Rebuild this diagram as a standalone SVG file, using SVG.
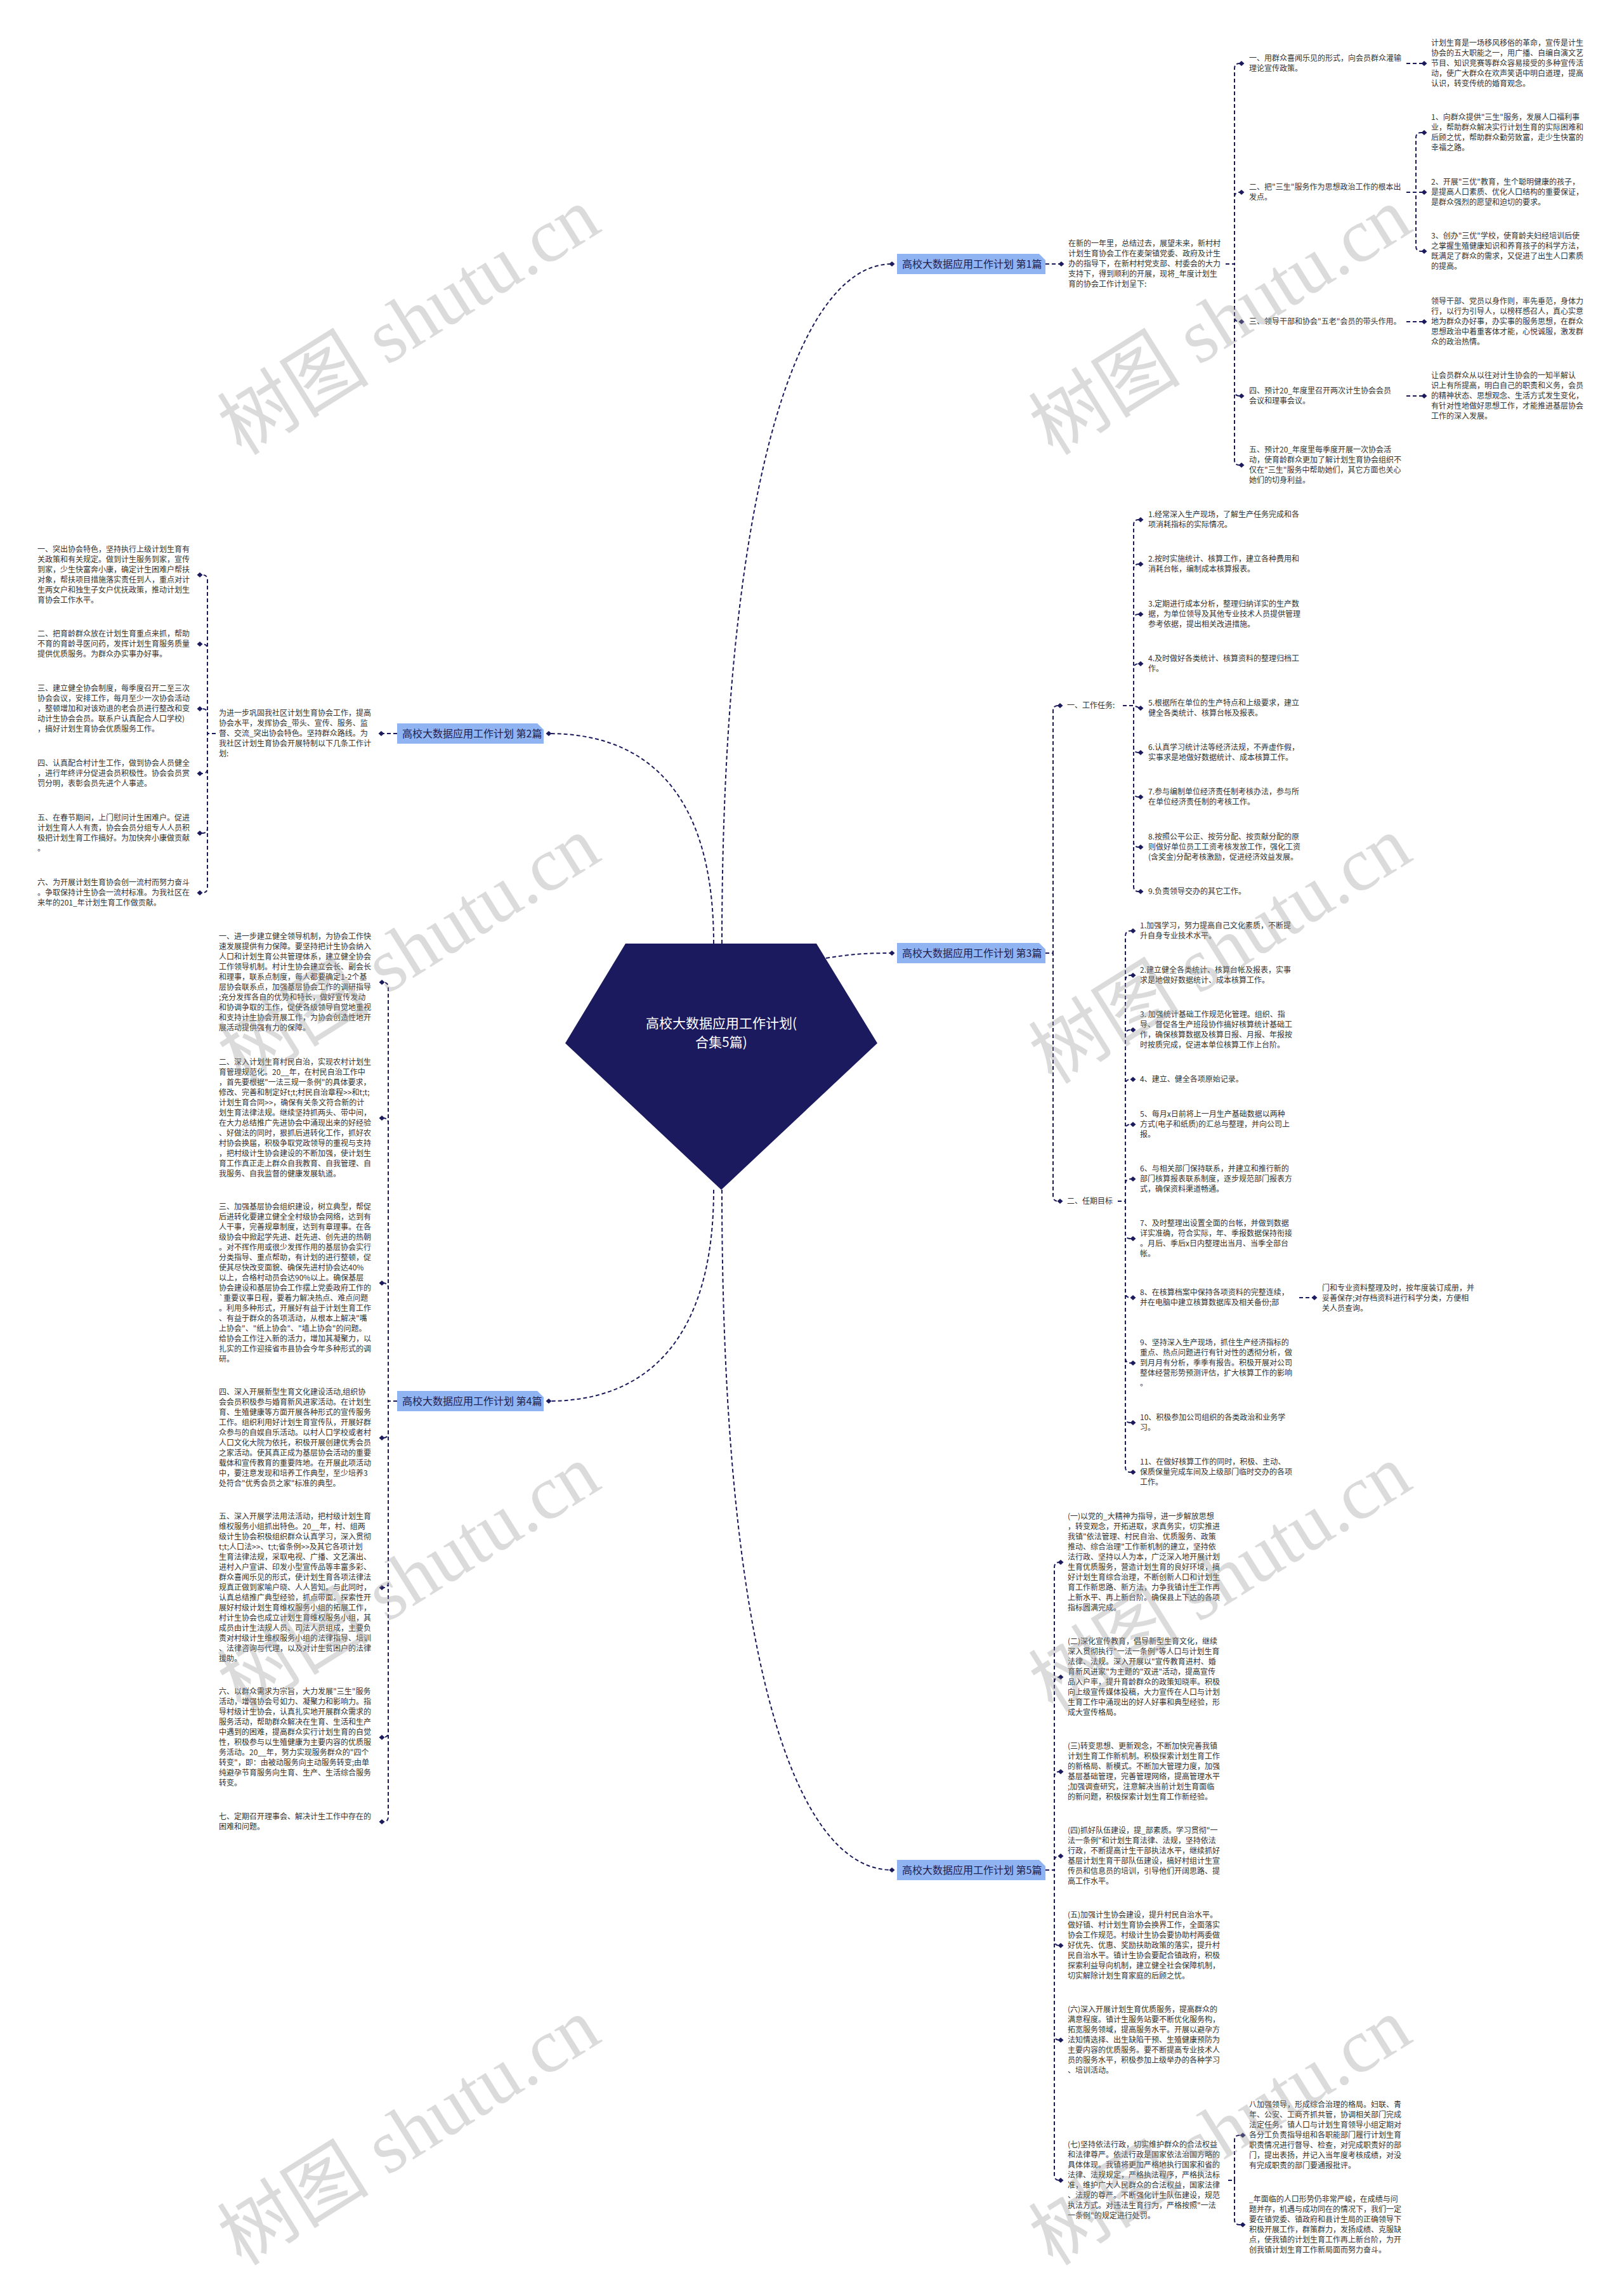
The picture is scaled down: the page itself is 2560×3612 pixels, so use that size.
<svg xmlns="http://www.w3.org/2000/svg" xmlns:xlink="http://www.w3.org/1999/xlink" width="2560" height="3612" viewBox="0 0 2560 3612">
<style>
.t{font-family:"Noto Sans CJK SC","Noto Sans",sans-serif;font-size:12px;fill:#333}
.lb{font-family:"Noto Sans CJK SC","Noto Sans",sans-serif;font-size:16px;fill:#1f2050}
.box{fill:#90b4f2}
.c{fill:none;stroke:#1b1a5c;stroke-width:2;stroke-dasharray:6 4}
.wm{font-family:"Liberation Serif","Noto Sans CJK SC",serif;font-size:120px;fill:#9a9a9a;opacity:.35}
</style>
<defs>
<path id="dm" d="M-4.5,0 L0,-4 L4.5,0 L0,4Z" fill="#1b1a5c"/>
</defs>
<rect width="2560" height="3612" fill="#fff"/>

<g id="connectors">
<path class="c" d="M1138,1487 C1138,800 1250,416 1406,416"/>
<path class="c" d="M1125,1487 C1125,1250 1020,1156 865,1156"/>
<path class="c" d="M1302,1510 C1340,1504 1360,1502 1406,1502"/>
<path class="c" d="M1125,1875 C1125,2110 1020,2208 865,2208"/>
<path class="c" d="M1138,1875 C1138,2600 1250,2947 1406,2947"/>
<path class="c" d="M1648,416 H1673"/>
<path class="c" d="M1932,416 H1946 V108 Q1946,100 1954,100 H1957"/>
<path class="c" d="M1932,416 H1946 V311 Q1946,303 1954,303 H1957"/>
<path class="c" d="M1932,416 H1946 V499 Q1946,507 1954,507 H1957"/>
<path class="c" d="M1932,416 H1946 V616 Q1946,624 1954,624 H1957"/>
<path class="c" d="M1932,416 H1946 V725 Q1946,733 1954,733 H1957"/>
<path class="c" d="M2217,100 H2245"/>
<path class="c" d="M2217,303 H2232 V217 Q2232,209 2240,209 H2245"/>
<path class="c" d="M2217,303 H2245"/>
<path class="c" d="M2217,303 H2232 V388 Q2232,396 2240,396 H2245"/>
<path class="c" d="M2217,507 H2245"/>
<path class="c" d="M2217,624 H2245"/>
<path class="c" d="M1648,1502 H1660 V1120 Q1660,1112 1668,1112 H1671"/>
<path class="c" d="M1648,1502 H1660 V1885 Q1660,1893 1668,1893 H1671"/>
<path class="c" d="M1770,1112 H1787 V827 Q1787,819 1795,819 H1798"/>
<path class="c" d="M1770,1112 H1787 V897 Q1787,889 1795,889 H1798"/>
<path class="c" d="M1770,1112 H1787 V976 Q1787,968 1795,968 H1798"/>
<path class="c" d="M1770,1112 H1787 V1054 Q1787,1046 1795,1046 H1798"/>
<path class="c" d="M1770,1112 H1787 L1798,1116"/>
<path class="c" d="M1770,1112 H1787 V1178 Q1787,1186 1795,1186 H1798"/>
<path class="c" d="M1770,1112 H1787 V1248 Q1787,1256 1795,1256 H1798"/>
<path class="c" d="M1770,1112 H1787 V1327 Q1787,1335 1795,1335 H1798"/>
<path class="c" d="M1770,1112 H1787 V1397 Q1787,1405 1795,1405 H1798"/>
<path class="c" d="M1762,1893 H1774 V1475 Q1774,1467 1782,1467 H1786"/>
<path class="c" d="M1762,1893 H1774 V1545 Q1774,1537 1782,1537 H1786"/>
<path class="c" d="M1762,1893 H1774 V1631 Q1774,1623 1782,1623 H1786"/>
<path class="c" d="M1762,1893 H1774 V1709 Q1774,1701 1782,1701 H1786"/>
<path class="c" d="M1762,1893 H1774 V1780 Q1774,1772 1782,1772 H1786"/>
<path class="c" d="M1762,1893 H1774 V1866 Q1774,1858 1782,1858 H1786"/>
<path class="c" d="M1762,1893 H1774 V1944 Q1774,1952 1782,1952 H1786"/>
<path class="c" d="M1762,1893 H1774 V2037 Q1774,2045 1782,2045 H1786"/>
<path class="c" d="M1762,1893 H1774 V2140 Q1774,2148 1782,2148 H1786"/>
<path class="c" d="M1762,1893 H1774 V2234 Q1774,2242 1782,2242 H1786"/>
<path class="c" d="M1762,1893 H1774 V2312 Q1774,2320 1782,2320 H1786"/>
<path class="c" d="M2048,2045 H2072"/>
<path class="c" d="M1648,2947 H1662 V2470 Q1662,2462 1670,2462 H1672"/>
<path class="c" d="M1648,2947 H1662 V2651 Q1662,2643 1670,2643 H1672"/>
<path class="c" d="M1648,2947 H1662 V2800 Q1662,2792 1670,2792 H1672"/>
<path class="c" d="M1648,2947 H1662 V2933 Q1662,2925 1670,2925 H1672"/>
<path class="c" d="M1648,2947 H1662 V3058 Q1662,3066 1670,3066 H1672"/>
<path class="c" d="M1648,2947 H1662 V3207 Q1662,3215 1670,3215 H1672"/>
<path class="c" d="M1648,2947 H1662 V3428 Q1662,3436 1670,3436 H1672"/>
<path class="c" d="M1936,3436 H1946 V3373 Q1946,3365 1954,3365 H1959"/>
<path class="c" d="M1936,3436 H1946 V3498 Q1946,3506 1954,3506 H1959"/>
<path class="c" d="M626,1156 H601"/>
<path class="c" d="M340,1156 H327 V914 Q327,906 319,906 H315"/>
<path class="c" d="M340,1156 H327 V1023 Q327,1015 319,1015 H315"/>
<path class="c" d="M340,1156 H327 V1125 Q327,1117 319,1117 H315"/>
<path class="c" d="M340,1156 H327 V1211 Q327,1219 319,1219 H315"/>
<path class="c" d="M340,1156 H327 V1305 Q327,1313 319,1313 H315"/>
<path class="c" d="M340,1156 H327 V1399 Q327,1407 319,1407 H315"/>
<path class="c" d="M626,2208 H612 V1556 Q612,1548 604,1548 H602"/>
<path class="c" d="M626,2208 H612 V1770 Q612,1762 604,1762 H602"/>
<path class="c" d="M626,2208 H612 V2030 Q612,2022 604,2022 H602"/>
<path class="c" d="M626,2208 H612 V2258 Q612,2266 604,2266 H602"/>
<path class="c" d="M626,2208 H612 V2494 Q612,2502 604,2502 H602"/>
<path class="c" d="M626,2208 H612 V2730 Q612,2738 604,2738 H602"/>
<path class="c" d="M626,2208 H612 V2863 Q612,2871 604,2871 H602"/>
</g>

<g id="center">
<path d="M986,1487 H1287 L1383,1644 L1137,1875 L891,1644 Z" fill="#1c1a5e"/>
<text x="1137" y="1620" text-anchor="middle" font-family="Noto Sans CJK SC, sans-serif" font-size="21" fill="#fff">高校大数据应用工作计划(</text>
<text x="1137" y="1650" text-anchor="middle" font-family="Noto Sans CJK SC, sans-serif" font-size="21" fill="#fff">合集5篇)</text>
</g>

<g id="label1"><use href="#dm" x="1406" y="416"/><path class="box" d="M1414,400 H1638 L1648,410 V432 H1414 Z"/><text class="lb" x="1422" y="422">高校大数据应用工作计划 第1篇</text></g>
<g id="label2"><use href="#dm" x="865" y="1156"/><path class="box" d="M626,1140 H847 L857,1150 V1172 H626 Z"/><text class="lb" x="634" y="1162">高校大数据应用工作计划 第2篇</text></g>
<g id="label3"><use href="#dm" x="1406" y="1502"/><path class="box" d="M1414,1486 H1638 L1648,1496 V1518 H1414 Z"/><text class="lb" x="1422" y="1508">高校大数据应用工作计划 第3篇</text></g>
<g id="label4"><use href="#dm" x="865" y="2208"/><path class="box" d="M626,2192 H847 L857,2202 V2224 H626 Z"/><text class="lb" x="634" y="2214">高校大数据应用工作计划 第4篇</text></g>
<g id="label5"><use href="#dm" x="1406" y="2947"/><path class="box" d="M1414,2931 H1638 L1648,2941 V2963 H1414 Z"/><text class="lb" x="1422" y="2953">高校大数据应用工作计划 第5篇</text></g>

<!-- Branch 1 -->
<g id="b1-intro"><use href="#dm" x="1673" y="416"/><text class="t"><tspan x="1684" y="388">在新的一年里，总结过去，展望未来，新村村</tspan><tspan x="1684" dy="16">计划生育协会工作在麦架镇党委、政府及计生</tspan><tspan x="1684" dy="16">办的指导下，在新村村党支部、村委会的大力</tspan><tspan x="1684" dy="16">支持下，得到顺利的开展，现将_年度计划生</tspan><tspan x="1684" dy="16">育的协会工作计划呈下:</tspan></text></g>
<g id="b1-a"><use href="#dm" x="1957" y="100"/><text class="t"><tspan x="1969" y="96">一、用群众喜闻乐见的形式，向会员群众灌输</tspan><tspan x="1969" dy="16">理论宣传政策。</tspan></text></g>
<g id="b1-a1"><use href="#dm" x="2245" y="100"/><text class="t"><tspan x="2256" y="72">计划生育是一场移风移俗的革命，宣传是计生</tspan><tspan x="2256" dy="16">协会的五大职能之一，用广播、自编自演文艺</tspan><tspan x="2256" dy="16">节目、知识竞赛等群众容易接受的多种宣传活</tspan><tspan x="2256" dy="16">动，使广大群众在欢声笑语中明白道理，提高</tspan><tspan x="2256" dy="16">认识，转变传统的婚育观念。</tspan></text></g>
<g id="b1-b"><use href="#dm" x="1957" y="303"/><text class="t"><tspan x="1969" y="299">二、把"三生"服务作为思想政治工作的根本出</tspan><tspan x="1969" dy="16">发点。</tspan></text></g>
<g id="b1-b1"><use href="#dm" x="2245" y="209"/><text class="t"><tspan x="2256" y="189">1、向群众提供"三生"服务，发展人口福利事</tspan><tspan x="2256" dy="16">业，帮助群众解决实行计划生育的实际困难和</tspan><tspan x="2256" dy="16">后顾之忧，帮助群众勤劳致富，走少生快富的</tspan><tspan x="2256" dy="16">幸福之路。</tspan></text></g>
<g id="b1-b2"><use href="#dm" x="2245" y="303"/><text class="t"><tspan x="2256" y="291">2、开展"三优"教育，生个聪明健康的孩子，</tspan><tspan x="2256" dy="16">是提高人口素质、优化人口结构的重要保证，</tspan><tspan x="2256" dy="16">是群众强烈的愿望和迫切的要求。</tspan></text></g>
<g id="b1-b3"><use href="#dm" x="2245" y="396"/><text class="t"><tspan x="2256" y="376">3、创办"三优"学校，使育龄夫妇经培训后使</tspan><tspan x="2256" dy="16">之掌握生殖健康知识和养育孩子的科学方法，</tspan><tspan x="2256" dy="16">既满足了群众的需求，又促进了出生人口素质</tspan><tspan x="2256" dy="16">的提高。</tspan></text></g>
<g id="b1-c"><use href="#dm" x="1957" y="507"/><text class="t"><tspan x="1969" y="511">三、领导干部和协会"五老"会员的带头作用。</tspan></text></g>
<g id="b1-c1"><use href="#dm" x="2245" y="507"/><text class="t"><tspan x="2256" y="479">领导干部、党员以身作则，率先垂范，身体力</tspan><tspan x="2256" dy="16">行，以行为引导人，以榜样感召人，真心实意</tspan><tspan x="2256" dy="16">地为群众办好事，办实事的服务思想，在群众</tspan><tspan x="2256" dy="16">思想政治中着重客体才能，心悦诚服，激发群</tspan><tspan x="2256" dy="16">众的政治热情。</tspan></text></g>
<g id="b1-d"><use href="#dm" x="1957" y="624"/><text class="t"><tspan x="1969" y="620">四、预计20_年度里召开两次计生协会会员</tspan><tspan x="1969" dy="16">会议和理事会议。</tspan></text></g>
<g id="b1-d1"><use href="#dm" x="2245" y="624"/><text class="t"><tspan x="2256" y="596">让会员群众从以往对计生协会的一知半解认</tspan><tspan x="2256" dy="16">识上有所提高，明白自己的职责和义务，会员</tspan><tspan x="2256" dy="16">的精神状态、思想观念、生活方式发生变化，</tspan><tspan x="2256" dy="16">有针对性地做好思想工作，才能推进基层协会</tspan><tspan x="2256" dy="16">工作的深入发展。</tspan></text></g>
<g id="b1-e"><use href="#dm" x="1957" y="733"/><text class="t"><tspan x="1969" y="713">五、预计20_年度里每季度开展一次协会活</tspan><tspan x="1969" dy="16">动，使育龄群众更加了解计划生育协会组织不</tspan><tspan x="1969" dy="16">仅在"三生"服务中帮助她们，其它方面也关心</tspan><tspan x="1969" dy="16">她们的切身利益。</tspan></text></g>

<!-- Branch 3 -->
<g id="b3-1"><use href="#dm" x="1671" y="1112"/><text class="t" x="1682" y="1116">一、工作任务:</text></g>
<g id="b3-1-1"><use href="#dm" x="1798" y="819"/><text class="t"><tspan x="1810" y="815">1.经常深入生产现场，了解生产任务完成和各</tspan><tspan x="1810" dy="16">项消耗指标的实际情况。</tspan></text></g>
<g id="b3-1-2"><use href="#dm" x="1798" y="889"/><text class="t"><tspan x="1810" y="885">2.按时实施统计、核算工作，建立各种费用和</tspan><tspan x="1810" dy="16">消耗台帐，编制成本核算报表。</tspan></text></g>
<g id="b3-1-3"><use href="#dm" x="1798" y="968"/><text class="t"><tspan x="1810" y="956">3.定期进行成本分析，整理归纳详实的生产数</tspan><tspan x="1810" dy="16">据，为单位领导及其他专业技术人员提供管理</tspan><tspan x="1810" dy="16">参考依据，提出相关改进措施。</tspan></text></g>
<g id="b3-1-4"><use href="#dm" x="1798" y="1046"/><text class="t"><tspan x="1810" y="1042">4.及时做好各类统计、核算资料的整理归档工</tspan><tspan x="1810" dy="16">作。</tspan></text></g>
<g id="b3-1-5"><use href="#dm" x="1798" y="1116"/><text class="t"><tspan x="1810" y="1112">5.根据所在单位的生产特点和上级要求，建立</tspan><tspan x="1810" dy="16">健全各类统计、核算台帐及报表。</tspan></text></g>
<g id="b3-1-6"><use href="#dm" x="1798" y="1186"/><text class="t"><tspan x="1810" y="1182">6.认真学习统计法等经济法规，不弄虚作假，</tspan><tspan x="1810" dy="16">实事求是地做好数据统计、成本核算工作。</tspan></text></g>
<g id="b3-1-7"><use href="#dm" x="1798" y="1256"/><text class="t"><tspan x="1810" y="1252">7.参与编制单位经济责任制考核办法，参与所</tspan><tspan x="1810" dy="16">在单位经济责任制的考核工作。</tspan></text></g>
<g id="b3-1-8"><use href="#dm" x="1798" y="1335"/><text class="t"><tspan x="1810" y="1323">8.按照公平公正、按劳分配、按贡献分配的原</tspan><tspan x="1810" dy="16">则做好单位员工工资考核发放工作，强化工资</tspan><tspan x="1810" dy="16">(含奖金)分配考核激励，促进经济效益发展。</tspan></text></g>
<g id="b3-1-9"><use href="#dm" x="1798" y="1405"/><text class="t" x="1810" y="1409">9.负责领导交办的其它工作。</text></g>

<g id="b3-2"><use href="#dm" x="1671" y="1893"/><text class="t" x="1682" y="1897">二、任期目标</text></g>
<g id="b3-2-1"><use href="#dm" x="1786" y="1467"/><text class="t"><tspan x="1797" y="1463">1.加强学习，努力提高自己文化素质，不断提</tspan><tspan x="1797" dy="16">升自身专业技术水平。</tspan></text></g>
<g id="b3-2-2"><use href="#dm" x="1786" y="1537"/><text class="t"><tspan x="1797" y="1533">2.建立健全各类统计、核算台帐及报表，实事</tspan><tspan x="1797" dy="16">求是地做好数据统计、成本核算工作。</tspan></text></g>
<g id="b3-2-3"><use href="#dm" x="1786" y="1623"/><text class="t"><tspan x="1797" y="1603">3. 加强统计基础工作规范化管理。组织、指</tspan><tspan x="1797" dy="16">导、督促各生产班段协作搞好核算统计基础工</tspan><tspan x="1797" dy="16">作，确保核算数据及核算日报、月报、年报按</tspan><tspan x="1797" dy="16">时按质完成，促进本单位核算工作上台阶。</tspan></text></g>
<g id="b3-2-4"><use href="#dm" x="1786" y="1701"/><text class="t" x="1797" y="1705">4、建立、健全各项原始记录。</text></g>
<g id="b3-2-5"><use href="#dm" x="1786" y="1772"/><text class="t"><tspan x="1797" y="1760">5、每月x日前将上一月生产基础数据以两种</tspan><tspan x="1797" dy="16">方式(电子和纸质)的汇总与整理，并向公司上</tspan><tspan x="1797" dy="16">报。</tspan></text></g>
<g id="b3-2-6"><use href="#dm" x="1786" y="1858"/><text class="t"><tspan x="1797" y="1846">6、与相关部门保持联系，并建立和推行新的</tspan><tspan x="1797" dy="16">部门核算报表联系制度，逐步规范部门报表方</tspan><tspan x="1797" dy="16">式，确保资料渠道畅通。</tspan></text></g>
<g id="b3-2-7"><use href="#dm" x="1786" y="1952"/><text class="t"><tspan x="1797" y="1932">7、及时整理出设置全面的台帐，并做到数据</tspan><tspan x="1797" dy="16">详实准确，符合实际，年、季报数据保持衔接</tspan><tspan x="1797" dy="16">。月后、季后x日内整理出当月、当季全部台</tspan><tspan x="1797" dy="16">帐。</tspan></text></g>
<g id="b3-2-8"><use href="#dm" x="1786" y="2045"/><text class="t"><tspan x="1797" y="2041">8、在核算档案中保持各项资料的完整连续，</tspan><tspan x="1797" dy="16">并在电脑中建立核算数据库及相关备份;部</tspan></text></g>
<g id="b3-2-8-1"><use href="#dm" x="2072" y="2045"/><text class="t"><tspan x="2084" y="2034">门和专业资料整理及时，按年度装订成册，并</tspan><tspan x="2084" dy="16">妥善保存;对存档资料进行科学分类，方便相</tspan><tspan x="2084" dy="16">关人员查询。</tspan></text></g>
<g id="b3-2-9"><use href="#dm" x="1786" y="2148"/><text class="t"><tspan x="1797" y="2120">9、坚持深入生产现场，抓住生产经济指标的</tspan><tspan x="1797" dy="16">重点、热点问题进行有针对性的透彻分析，做</tspan><tspan x="1797" dy="16">到月月有分析，季季有报告。积极开展对公司</tspan><tspan x="1797" dy="16">整体经营形势预测评估，扩大核算工作的影响</tspan><tspan x="1797" dy="16">。</tspan></text></g>
<g id="b3-2-10"><use href="#dm" x="1786" y="2242"/><text class="t"><tspan x="1797" y="2238">10、积极参加公司组织的各类政治和业务学</tspan><tspan x="1797" dy="16">习。</tspan></text></g>
<g id="b3-2-11"><use href="#dm" x="1786" y="2320"/><text class="t"><tspan x="1797" y="2308">11、在做好核算工作的同时，积极、主动、</tspan><tspan x="1797" dy="16">保质保量完成车间及上级部门临时交办的各项</tspan><tspan x="1797" dy="16">工作。</tspan></text></g>

<!-- Branch 5 -->
<g id="b5-1"><use href="#dm" x="1672" y="2462"/><text class="t"><tspan x="1683" y="2394">(一)以党的_大精神为指导，进一步解放思想</tspan><tspan x="1683" dy="16">，转变观念，开拓进取，求真务实，切实推进</tspan><tspan x="1683" dy="16">我镇"依法管理、村民自治、优质服务、政策</tspan><tspan x="1683" dy="16">推动、综合治理"工作新机制的建立，坚持依</tspan><tspan x="1683" dy="16">法行政、坚持以人为本，广泛深入地开展计划</tspan><tspan x="1683" dy="16">生育优质服务，营造计划生育的良好环境，搞</tspan><tspan x="1683" dy="16">好计划生育综合治理，不断创新人口和计划生</tspan><tspan x="1683" dy="16">育工作新思路、新方法，力争我镇计生工作再</tspan><tspan x="1683" dy="16">上新水平、再上新台阶。确保县上下达的各项</tspan><tspan x="1683" dy="16">指标圆满完成。</tspan></text></g>
<g id="b5-2"><use href="#dm" x="1672" y="2643"/><text class="t"><tspan x="1683" y="2591">(二)深化宣传教育，倡导新型生育文化，继续</tspan><tspan x="1683" dy="16">深入贯彻执行"一法一条例"等人口与计划生育</tspan><tspan x="1683" dy="16">法律、法规。深入开展以"宣传教育进村、婚</tspan><tspan x="1683" dy="16">育新风进家"为主题的"双进"活动，提高宣传</tspan><tspan x="1683" dy="16">品入户率，提升育龄群众的政策知晓率。积极</tspan><tspan x="1683" dy="16">向上级宣传媒体投稿，大力宣传在人口与计划</tspan><tspan x="1683" dy="16">生育工作中涌现出的好人好事和典型经验，形</tspan><tspan x="1683" dy="16">成大宣传格局。</tspan></text></g>
<g id="b5-3"><use href="#dm" x="1672" y="2792"/><text class="t"><tspan x="1683" y="2756">(三)转变思想、更新观念，不断加快完善我镇</tspan><tspan x="1683" dy="16">计划生育工作新机制。积极探索计划生育工作</tspan><tspan x="1683" dy="16">的新格局、新模式。不断加大管理力度，加强</tspan><tspan x="1683" dy="16">基层基础管理，完善管理网络，提高管理水平</tspan><tspan x="1683" dy="16">;加强调查研究，注意解决当前计划生育面临</tspan><tspan x="1683" dy="16">的新问题，积极探索计划生育工作新经验。</tspan></text></g>
<g id="b5-4"><use href="#dm" x="1672" y="2925"/><text class="t"><tspan x="1683" y="2889">(四)抓好队伍建设，提_部素质。学习贯彻"一</tspan><tspan x="1683" dy="16">法一条例"和计划生育法律、法规，坚持依法</tspan><tspan x="1683" dy="16">行政，不断提高计生干部执法水平，继续抓好</tspan><tspan x="1683" dy="16">基层计划生育干部队伍建设，搞好村组计生宣</tspan><tspan x="1683" dy="16">传员和信息员的培训，引导他们开阔思路、提</tspan><tspan x="1683" dy="16">高工作水平。</tspan></text></g>
<g id="b5-5"><use href="#dm" x="1672" y="3066"/><text class="t"><tspan x="1683" y="3022">(五)加强计生协会建设，提升村民自治水平。</tspan><tspan x="1683" dy="16">做好镇、村计划生育协会换界工作，全面落实</tspan><tspan x="1683" dy="16">协会工作规范。村级计生协会要协助村两委做</tspan><tspan x="1683" dy="16">好优先、优惠、奖励扶助政策的落实，提升村</tspan><tspan x="1683" dy="16">民自治水平。镇计生协会要配合镇政府，积极</tspan><tspan x="1683" dy="16">探索利益导向机制，建立健全社会保障机制，</tspan><tspan x="1683" dy="16">切实解除计划生育家庭的后顾之忧。</tspan></text></g>
<g id="b5-6"><use href="#dm" x="1672" y="3215"/><text class="t"><tspan x="1683" y="3171">(六)深入开展计划生育优质服务，提高群众的</tspan><tspan x="1683" dy="16">满意程度。镇计生服务站要不断优化服务构，</tspan><tspan x="1683" dy="16">拓宽服务领域，提高服务水平。开展以避孕方</tspan><tspan x="1683" dy="16">法知情选择、出生缺陷干预、生殖健康预防为</tspan><tspan x="1683" dy="16">主要内容的优质服务。要不断提高专业技术人</tspan><tspan x="1683" dy="16">员的服务水平，积极参加上级举办的各种学习</tspan><tspan x="1683" dy="16">、培训活动。</tspan></text></g>
<g id="b5-7"><use href="#dm" x="1672" y="3436"/><text class="t"><tspan x="1683" y="3384">(七)坚持依法行政，切实维护群众的合法权益</tspan><tspan x="1683" dy="16">和法律尊严。依法行政是国家依法治国方略的</tspan><tspan x="1683" dy="16">具体体现。我镇将更加严格地执行国家和省的</tspan><tspan x="1683" dy="16">法律、法规规定，严格执法程序，严格执法标</tspan><tspan x="1683" dy="16">准，维护广大人民群众的合法权益，国家法律</tspan><tspan x="1683" dy="16">、法规的尊严。不断强化计生队伍建设，规范</tspan><tspan x="1683" dy="16">执法方式。对违法生育行为，严格按照"一法</tspan><tspan x="1683" dy="16">一条例"的规定进行处罚。</tspan></text></g>
<g id="b5-7-1"><use href="#dm" x="1959" y="3365"/><text class="t"><tspan x="1969" y="3321">八加强领导，形成综合治理的格局。妇联、青</tspan><tspan x="1969" dy="16">年、公安、工商齐抓共管，协调相关部门完成</tspan><tspan x="1969" dy="16">法定任务。镇人口与计划生育领导小组定期对</tspan><tspan x="1969" dy="16">各分工负责指导组和各职能部门履行计划生育</tspan><tspan x="1969" dy="16">职责情况进行督导、检查，对完成职责好的部</tspan><tspan x="1969" dy="16">门，提出表扬，并记入当年度考核成绩，对没</tspan><tspan x="1969" dy="16">有完成职责的部门要通报批评。</tspan></text></g>
<g id="b5-7-2"><use href="#dm" x="1959" y="3506"/><text class="t"><tspan x="1969" y="3470">_年面临的人口形势仍非常严峻，在成绩与问</tspan><tspan x="1969" dy="16">题并存，机遇与成功同在的情况下，我们一定</tspan><tspan x="1969" dy="16">要在镇党委、镇政府和县计生局的正确领导下</tspan><tspan x="1969" dy="16">积极开展工作，群策群力，发扬成绩、克服缺</tspan><tspan x="1969" dy="16">点，使我镇的计划生育工作再上新台阶，为开</tspan><tspan x="1969" dy="16">创我镇计划生育工作新局面而努力奋斗。</tspan></text></g>

<!-- Branch 2 -->
<g id="b2-intro"><use href="#dm" x="601" y="1156"/><text class="t"><tspan x="345" y="1128">为进一步巩固我社区计划生育协会工作，提高</tspan><tspan x="345" dy="16">协会水平，发挥协会_带头、宣传、服务、监</tspan><tspan x="345" dy="16">督、交流_突出协会特色。坚持群众路线。为</tspan><tspan x="345" dy="16">我社区计划生育协会开展特制以下几条工作计</tspan><tspan x="345" dy="16">划:</tspan></text></g>
<g id="b2-1"><use href="#dm" x="315" y="906"/><text class="t"><tspan x="59" y="870">一、突出协会特色，坚持执行上级计划生育有</tspan><tspan x="59" dy="16">关政策和有关规定。做到计生服务到家，宣传</tspan><tspan x="59" dy="16">到家，少生快富奔小康，确定计生困难户帮扶</tspan><tspan x="59" dy="16">对象，帮扶项目措施落实责任到人，重点对计</tspan><tspan x="59" dy="16">生两女户和独生子女户优抚政策，推动计划生</tspan><tspan x="59" dy="16">育协会工作水平。</tspan></text></g>
<g id="b2-2"><use href="#dm" x="315" y="1015"/><text class="t"><tspan x="59" y="1003">二、把育龄群众放在计划生育重点来抓，帮助</tspan><tspan x="59" dy="16">不育的育龄寻医问药，发挥计划生育服务质量</tspan><tspan x="59" dy="16">提供优质服务。为群众办实事办好事。</tspan></text></g>
<g id="b2-3"><use href="#dm" x="315" y="1117"/><text class="t"><tspan x="59" y="1089">三、建立健全协会制度，每季度召开二至三次</tspan><tspan x="59" dy="16">协会会议，安排工作，每月至少一次协会活动</tspan><tspan x="59" dy="16">，整顿增加和对该劝退的老会员进行整改和变</tspan><tspan x="59" dy="16">动计生协会会员。联系户认真配合人口学校)</tspan><tspan x="59" dy="16">，搞好计划生育协会优质服务工作。</tspan></text></g>
<g id="b2-4"><use href="#dm" x="315" y="1219"/><text class="t"><tspan x="59" y="1207">四、认真配合村计生工作，做到协会人员健全</tspan><tspan x="59" dy="16">，进行年终评分促进会员积极性。协会会员赏</tspan><tspan x="59" dy="16">罚分明，表彰会员先进个人事迹。</tspan></text></g>
<g id="b2-5"><use href="#dm" x="315" y="1313"/><text class="t"><tspan x="59" y="1293">五、在春节期间，上门慰问计生困难户。促进</tspan><tspan x="59" dy="16">计划生育人人有责，协会会员分组专人人员积</tspan><tspan x="59" dy="16">极把计划生育工作搞好。为加快奔小康做贡献</tspan><tspan x="59" dy="16">。</tspan></text></g>
<g id="b2-6"><use href="#dm" x="315" y="1407"/><text class="t"><tspan x="59" y="1395">六、为开展计划生育协会创一流村而努力奋斗</tspan><tspan x="59" dy="16">。争取保持计生协会一流村标准。为我社区在</tspan><tspan x="59" dy="16">来年的201_年计划生育工作做贡献。</tspan></text></g>

<!-- Branch 4 -->
<g id="b4-1"><use href="#dm" x="602" y="1548"/><text class="t"><tspan x="345" y="1480">一、进一步建立健全领导机制，为协会工作快</tspan><tspan x="345" dy="16">速发展提供有力保障。要坚持把计生协会纳入</tspan><tspan x="345" dy="16">人口和计划生育公共管理体系，建立健全协会</tspan><tspan x="345" dy="16">工作领导机制。村计生协会建立会长、副会长</tspan><tspan x="345" dy="16">和理事，联系点制度，每人都要确定1-2个基</tspan><tspan x="345" dy="16">层协会联系点，加强基层协会工作的调研指导</tspan><tspan x="345" dy="16">;充分发挥各自的优势和特长，做好宣传发动</tspan><tspan x="345" dy="16">和协调争取的工作，促使各级领导自觉地重视</tspan><tspan x="345" dy="16">和支持计生协会开展工作，为协会创造性地开</tspan><tspan x="345" dy="16">展活动提供强有力的保障。</tspan></text></g>
<g id="b4-2"><use href="#dm" x="602" y="1762"/><text class="t"><tspan x="345" y="1678">二、深入计划生育村民自治，实现农村计划生</tspan><tspan x="345" dy="16">育管理规范化。20__年，在村民自治工作中</tspan><tspan x="345" dy="16">，首先要根据"一法三规一条例"的具体要求，</tspan><tspan x="345" dy="16">修改、完善和制定好t;t;村民自治章程&gt;&gt;和t;t;</tspan><tspan x="345" dy="16">计划生育合同&gt;&gt;，确保有关条文符合新的计</tspan><tspan x="345" dy="16">划生育法律法规。继续坚持抓两头、带中间，</tspan><tspan x="345" dy="16">在大力总结推广先进协会中涌现出来的好经验</tspan><tspan x="345" dy="16">、好做法的同时，狠抓后进转化工作，抓好农</tspan><tspan x="345" dy="16">村协会换届，积极争取党政领导的重视与支持</tspan><tspan x="345" dy="16">，把村级计生协会建设的不断加强，使计划生</tspan><tspan x="345" dy="16">育工作真正走上群众自我教育、自我管理、自</tspan><tspan x="345" dy="16">我服务、自我监督的健康发展轨道。</tspan></text></g>
<g id="b4-3"><use href="#dm" x="602" y="2022"/><text class="t"><tspan x="345" y="1906">三、加强基层协会组织建设，树立典型，帮促</tspan><tspan x="345" dy="16">后进转化要建立健全全村级协会网络，达到有</tspan><tspan x="345" dy="16">人干事，完善规章制度，达到有章理事。在各</tspan><tspan x="345" dy="16">级协会中掀起学先进、赶先进、创先进的热朝</tspan><tspan x="345" dy="16">。对不挥作用或很少发挥作用的基层协会实行</tspan><tspan x="345" dy="16">分类指导、重点帮助，有计划的进行整顿，促</tspan><tspan x="345" dy="16">使其尽快改变面貌、确保先进村协会达40%</tspan><tspan x="345" dy="16">以上，合格村动员会达90%以上。确保基层</tspan><tspan x="345" dy="16">协会建设和基层协会工作摆上党委政府工作的</tspan><tspan x="345" dy="16">`重要议事日程，要着力解决热点、难点问题</tspan><tspan x="345" dy="16">。利用多种形式，开展好有益于计划生育工作</tspan><tspan x="345" dy="16">、有益于群众的各项活动，从根本上解决"嘴</tspan><tspan x="345" dy="16">上协会"、"纸上协会"、"墙上协会"的问题。</tspan><tspan x="345" dy="16">给协会工作注入新的活力，增加其凝聚力，以</tspan><tspan x="345" dy="16">扎实的工作迎接省市县协会今年多种形式的调</tspan><tspan x="345" dy="16">研。</tspan></text></g>
<g id="b4-4"><use href="#dm" x="602" y="2266"/><text class="t"><tspan x="345" y="2198">四、深入开展新型生育文化建设活动,组织协</tspan><tspan x="345" dy="16">会会员积极参与婚育新风进家活动。在计划生</tspan><tspan x="345" dy="16">育、生殖健康等方面开展各种形式的宣传服务</tspan><tspan x="345" dy="16">工作。组织利用好计划生育宣传队，开展好群</tspan><tspan x="345" dy="16">众参与的自娱自乐活动。以村人口学校或者村</tspan><tspan x="345" dy="16">人口文化大院为依托，积极开展创建优秀会员</tspan><tspan x="345" dy="16">之家活动。使其真正成为基层协会活动的重要</tspan><tspan x="345" dy="16">载体和宣传教育的重要阵地。在开展此项活动</tspan><tspan x="345" dy="16">中，要注意发现和培养工作典型，至少培养3</tspan><tspan x="345" dy="16">处符合"优秀会员之家"标准的典型。</tspan></text></g>
<g id="b4-5"><use href="#dm" x="602" y="2502"/><text class="t"><tspan x="345" y="2394">五、深入开展学法用法活动，把村级计划生育</tspan><tspan x="345" dy="16">维权服务小组抓出特色。20__年，村、组两</tspan><tspan x="345" dy="16">级计生协会积极组织群众认真学习，深入贯彻</tspan><tspan x="345" dy="16">t;t;人口法&gt;&gt;、t;t;省条例&gt;&gt;及其它各项计划</tspan><tspan x="345" dy="16">生育法律法规，采取电视、广播、文艺演出、</tspan><tspan x="345" dy="16">进村入户宣讲、印发小型宣传品等丰富多彩、</tspan><tspan x="345" dy="16">群众喜闻乐见的形式，使计划生育各项法律法</tspan><tspan x="345" dy="16">规真正做到家喻户晓、人人皆知。与此同时，</tspan><tspan x="345" dy="16">认真总结推广典型经验，抓点带面。探索性开</tspan><tspan x="345" dy="16">展好村级计划生育维权服务小组的拓展工作，</tspan><tspan x="345" dy="16">村计生协会也成立计划生育维权服务小组，其</tspan><tspan x="345" dy="16">成员由计生法规人员、司法人员组成，主要负</tspan><tspan x="345" dy="16">责对村级计生维权服务小组的法律指导、培训</tspan><tspan x="345" dy="16">、法律咨询与代理，以及对计生贫困户的法律</tspan><tspan x="345" dy="16">援助。</tspan></text></g>
<g id="b4-6"><use href="#dm" x="602" y="2738"/><text class="t"><tspan x="345" y="2670">六、以群众需求为宗旨，大力发展"三生"服务</tspan><tspan x="345" dy="16">活动，增强协会号如力、凝聚力和影响力。指</tspan><tspan x="345" dy="16">导村级计生协会，认真扎实地开展群众需求的</tspan><tspan x="345" dy="16">服务活动，帮助群众解决在生育、生活和生产</tspan><tspan x="345" dy="16">中遇到的困难，提高群众实行计划生育的自觉</tspan><tspan x="345" dy="16">性，积极参与以生殖健康为主要内容的优质服</tspan><tspan x="345" dy="16">务活动。20__年，努力实现服务群众的"四个</tspan><tspan x="345" dy="16">转变"，即：由被动服务向主动服务转变;由单</tspan><tspan x="345" dy="16">纯避孕节育服务向生育、生产、生活综合服务</tspan><tspan x="345" dy="16">转变。</tspan></text></g>
<g id="b4-7"><use href="#dm" x="602" y="2871"/><text class="t"><tspan x="345" y="2867">七、定期召开理事会、解决计生工作中存在的</tspan><tspan x="345" dy="16">困难和问题。</tspan></text></g>

<g id="watermark">
<text class="wm" text-anchor="middle" transform="translate(645,507) rotate(-32)" dy="40">树图 shutu.cn</text>
<text class="wm" text-anchor="middle" transform="translate(1924,507) rotate(-32)" dy="40">树图 shutu.cn</text>
<text class="wm" text-anchor="middle" transform="translate(645,1498) rotate(-32)" dy="40">树图 shutu.cn</text>
<text class="wm" text-anchor="middle" transform="translate(1924,1498) rotate(-32)" dy="40">树图 shutu.cn</text>
<text class="wm" text-anchor="middle" transform="translate(645,2488) rotate(-32)" dy="40">树图 shutu.cn</text>
<text class="wm" text-anchor="middle" transform="translate(1924,2488) rotate(-32)" dy="40">树图 shutu.cn</text>
<text class="wm" text-anchor="middle" transform="translate(645,3360) rotate(-32)" dy="40">树图 shutu.cn</text>
<text class="wm" text-anchor="middle" transform="translate(1924,3360) rotate(-32)" dy="40">树图 shutu.cn</text>
</g>
</svg>
